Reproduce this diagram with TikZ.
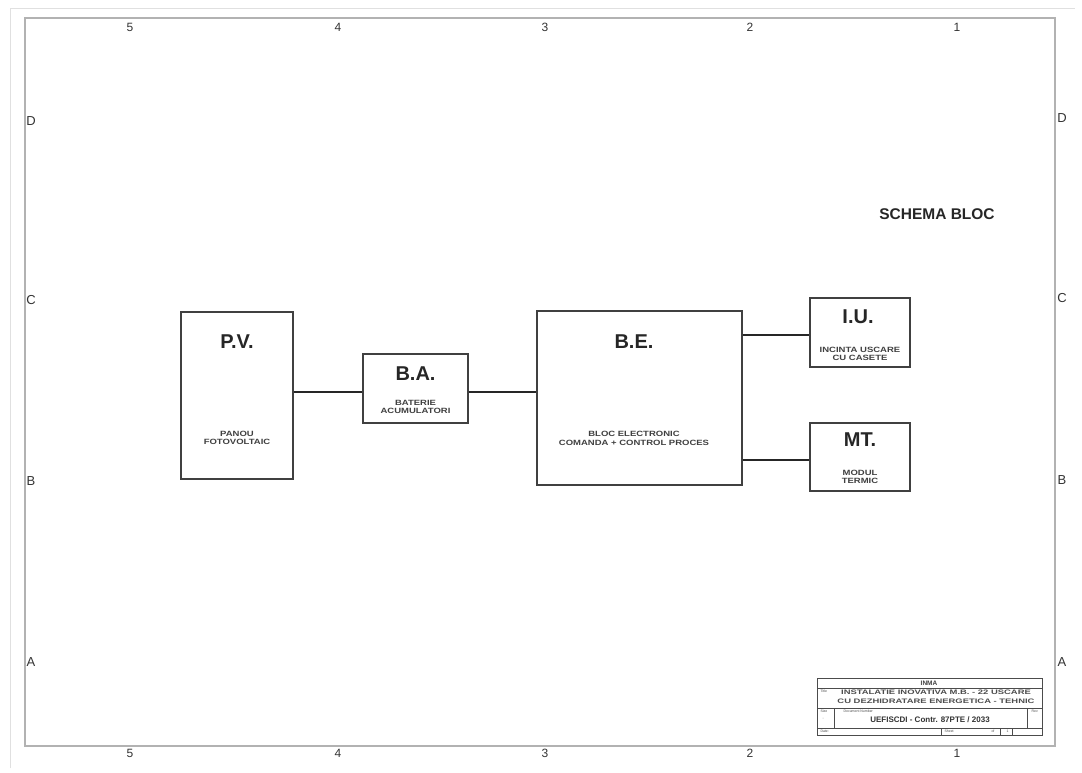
\documentclass[tikz,border=0pt]{standalone}
\usepackage{fontspec}
\setmainfont{Liberation Sans}
\newfontfamily\widefont[FakeStretch=1.25]{Liberation Sans}
\newfontfamily\xwidefont[FakeStretch=1.45]{Liberation Sans}
\begin{document}
\begin{tikzpicture}[x=1pt,y=-1pt,
  frame/.style={draw=black!30,line width=1.2pt},
  outerframe/.style={draw=black!12,line width=1pt},
  blk/.style={draw=black!75,line width=1.4pt,fill=white},
  wire/.style={draw=black!85,line width=1.1pt},
  ttl/.style={font=\fontsize{20}{22}\selectfont\bfseries,text=black!85},
  sub/.style={font=\widefont\fontsize{7.6}{8.4}\selectfont\bfseries,text=black!75,align=center},
  lbl/.style={font=\fontsize{12}{13}\selectfont,text=black!80},
  rlbl/.style={font=\fontsize{13}{14}\selectfont,text=black!80},
  tb/.style={draw=black!70,line width=0.7pt},
  tbs/.style={font=\fontsize{3.5}{4}\selectfont,text=black!70,anchor=west},
  tbt/.style={font=\xwidefont\fontsize{6.5}{7}\selectfont\bfseries,text=black!70}
]
\useasboundingbox (0,0) rectangle (1082,773);
\fill[white] (0,0) rectangle (1082,773);
% outer sheet edges
\draw[outerframe] (10,768) -- (10,9) -- (1075,9);
% inner frame
\draw[frame] (25,18) rectangle (1055,746);
% column labels
\foreach \x/\t in {130/5,338/4,545/3,750/2,957/1}{
  \node[lbl] (ct\t) at (\x,27) {\t};
  \node[lbl] (cb\t) at (\x,753) {\t};
}
% row labels
\foreach \y/\t in {121/D,300/C,481/B,662/A}{
  \node[rlbl] (rl\t) at (31,\y) {\t};
}
\foreach \y/\t in {118/D,298/C,480/B,662/A}{
  \node[rlbl] (rr\t) at (1062,\y) {\t};
}
% title
\node[font=\fontsize{15.5}{17}\selectfont\bfseries,text=black!85] (schema) at (937,214) {SCHEMA BLOC};
% blocks
\node[blk,minimum width=112pt,minimum height=167pt] (pv) at (237,395.5) {};
\node[ttl] (pvt) at (237,342) {P.V.};
\node[sub] (pvs) at (237,438) {PANOU\\FOTOVOLTAIC};

\node[blk,minimum width=105pt,minimum height=69pt] (ba) at (415.5,388.5) {};
\node[ttl] (bat) at (415.5,374) {B.A.};
\node[sub] (bas) at (415.5,407) {BATERIE\\ACUMULATORI};

\node[blk,minimum width=205pt,minimum height=174pt] (be) at (639.5,398) {};
\node[ttl] (bet) at (634,342) {B.E.};
\node[sub] (bes) at (634,438.5) {BLOC ELECTRONIC\\COMANDA + CONTROL PROCES};

\node[blk,minimum width=100pt,minimum height=69pt] (iu) at (860,332.5) {};
\node[ttl] (iut) at (858,317) {I.U.};
\node[sub] (ius) at (860,354) {INCINTA USCARE\\CU CASETE};

\node[blk,minimum width=100pt,minimum height=68pt] (mt) at (860,457) {};
\node[ttl] (mtt) at (860,440) {MT.};
\node[sub] (mts) at (860,477) {MODUL\\TERMIC};

% connectors
\draw[wire] (pv.east |- 0,392) -- (ba.west |- 0,392);
\draw[wire] (ba.east |- 0,392) -- (be.west |- 0,392);
\draw[wire] (be.east |- 0,335) -- (iu.west |- 0,335);
\draw[wire] (be.east |- 0,460) -- (mt.west |- 0,460);

% title block
\draw[tb] (817,678) rectangle (1042,735);
\draw[tb] (817,688.5) -- (1042,688.5);
\draw[tb] (817,708) -- (1042,708);
\draw[tb] (817,728) -- (1042,728);
\draw[tb] (834,708) -- (834,728);
\draw[tb] (1027,708) -- (1027,728);
\draw[tb] (941,728) -- (941,735);
\draw[tb] (1000,728) -- (1000,735);
\draw[tb] (1012,728) -- (1012,735);
\node[font=\fontsize{6.5}{7}\selectfont\bfseries,text=black!75] (inma) at (929,683.5) {INMA};
\node[tbs] (tit) at (817,691) {Title};
\node[tbt] (l1) at (936,692.5) {INSTALATIE INOVATIVA M.B. - 22 USCARE};
\node[tbt] (l2) at (936,701.5) {CU DEZHIDRATARE ENERGETICA - TEHNIC};
\node[tbs] (size) at (817,711) {Size};
\node[tbs] (dash) at (819,719) {-};
\node[tbs] (docn) at (840,711.5) {Document Number};
\node[tbs] (rev) at (1028,711) {Rev};
\node[font=\fontsize{8}{9}\selectfont\bfseries,text=black!80] (doc) at (930,720) {UEFISCDI - Contr. 87PTE / 2033};
\node[tbs] (date) at (817,731.5) {Date:};
\node[tbs] (sheet) at (941,731.5) {Sheet};
\node[tbs] (of) at (988,731.5) {of};
\node[tbs] (one) at (1003,731.5) {1};
\end{tikzpicture}
\end{document}
